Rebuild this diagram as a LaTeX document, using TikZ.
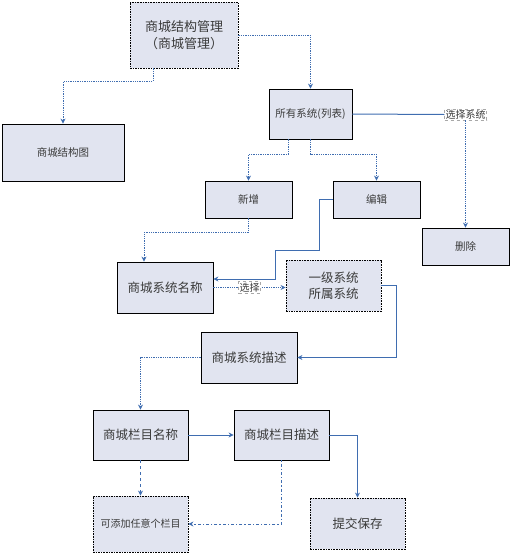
\documentclass[tikz,border=0pt]{standalone}
\usepackage{fontspec}
\setmainfont{Noto Sans CJK SC}
\usetikzlibrary{arrows.meta, calc}
\definecolor{linkblue}{HTML}{3F6DB0}
\definecolor{boxfill}{HTML}{E1E4F0}
\definecolor{txtgray}{HTML}{3A3A3A}
\definecolor{tagline}{HTML}{A8A8A8}

\tikzset{
  box/.style={draw=black, line width=0.8pt, fill=boxfill, text=txtgray,
    inner sep=0pt, align=center},
  dbox/.style={box, dash pattern=on 1.6pt off 1pt},
  tag/.style={draw=tagline, dashed, fill=white, text=txtgray,
    font=\fontsize{10}{12}\selectfont, inner sep=1pt},
  link/.style={draw=linkblue, line width=1pt},
  dlink/.style={link, dash pattern=on 1.3pt off 1pt},
  ddlink/.style={link, dash pattern=on 1.3pt off 2pt on 3pt off 2pt}
}

\begin{document}
\begin{tikzpicture}[x=1pt, y=-1pt, >={Stealth[length=5pt, width=5pt]}]

\useasboundingbox (0,0) rectangle (512,555);

% ================================================================
% Boxes
% ================================================================
\node[dbox, minimum width=108, minimum height=66,
      font=\fontsize{13}{17}\selectfont] (mgmt) at (184,35)
  {商城结构管理\\（商城管理）};
\node[box, minimum width=122, minimum height=57,
      font=\fontsize{10.5}{12}\selectfont] (map) at (63,152.5) {商城结构图};
\node[box, minimum width=83, minimum height=50,
      font=\fontsize{10.5}{12}\selectfont] (list) at (310.5,114) {所有系统(列表)};
\node[tag] (pick) at (465.5,114.5) {选择系统};

\node[box, minimum width=87, minimum height=37,
      font=\fontsize{10.5}{12}\selectfont] (add) at (248.5,199.5) {新增};
\node[box, minimum width=87, minimum height=37,
      font=\fontsize{10.5}{12}\selectfont] (edit) at (376.5,199.5) {编辑};
\node[box, minimum width=87, minimum height=37,
      font=\fontsize{10.5}{12}\selectfont] (del) at (465.5,246.5) {删除};

\node[box, minimum width=96, minimum height=51,
      font=\fontsize{12.5}{15}\selectfont] (sysname) at (165,287.5) {商城系统名称};
\node[dbox, minimum width=95, minimum height=51,
      font=\fontsize{12.5}{16}\selectfont] (level) at (333.5,285.5)
  {一级系统\\所属系统};
\node[box, minimum width=96, minimum height=51,
      font=\fontsize{12.5}{15}\selectfont] (sysdesc) at (249,357.5) {商城系统描述};

\node[box, minimum width=95, minimum height=50,
      font=\fontsize{12.5}{15}\selectfont] (colname) at (140.5,435) {商城栏目名称};
\node[box, minimum width=95, minimum height=50,
      font=\fontsize{12.5}{15}\selectfont] (coldesc) at (281.5,435) {商城栏目描述};
\node[dbox, minimum width=95, minimum height=56,
      font=\fontsize{10}{12}\selectfont] (any) at (140.5,524) {可添加任意个栏目};
\node[dbox, minimum width=95, minimum height=51,
      font=\fontsize{12.5}{15}\selectfont] (submit) at (357.5,523.5) {提交保存};

% ================================================================
% Connectors
% ================================================================
\draw[dlink, ->] (mgmt.east) -| (list.north);
\draw[dlink, ->] ([xshift=-31pt]mgmt.south) -- ++(0,13) -| (map.north);

\draw[link] (list.east) -- (pick.west);
\draw[dlink, ->] (pick.south) -- (del.north);

\draw[dlink, ->] ([xshift=-22.5pt]list.south) -- ++(0,15) -| (add.north);
\draw[dlink, ->] (list.south) -- ++(0,15) -| (edit.north);

\draw[dlink, ->] (add.south) -- ++(0,14) -| ([xshift=-21pt]sysname.north);
\draw[link, ->] (edit.west) -- ++(-13,0) -- ++(0,51) -- ++(-44,0)
  |- ([yshift=8.5pt]sysname.east);

\draw[dlink, ->] (sysname.east) -- node[tag] (choose) {选择}
  (sysname.east -| level.west);

\draw[link, ->] (level.east) -- ++(15,0) |- (sysdesc.east);
\draw[dlink, ->] (sysdesc.west) -| (colname.north);

\draw[link, ->] (colname.east) -- (coldesc.west);
\draw[link, ->] (coldesc.east) -| (submit.north);
\draw[link, dashed, ->] (colname.south) -- (any.north);
\draw[ddlink, ->] (coldesc.south) |- (any.east);

\end{tikzpicture}
\end{document}
